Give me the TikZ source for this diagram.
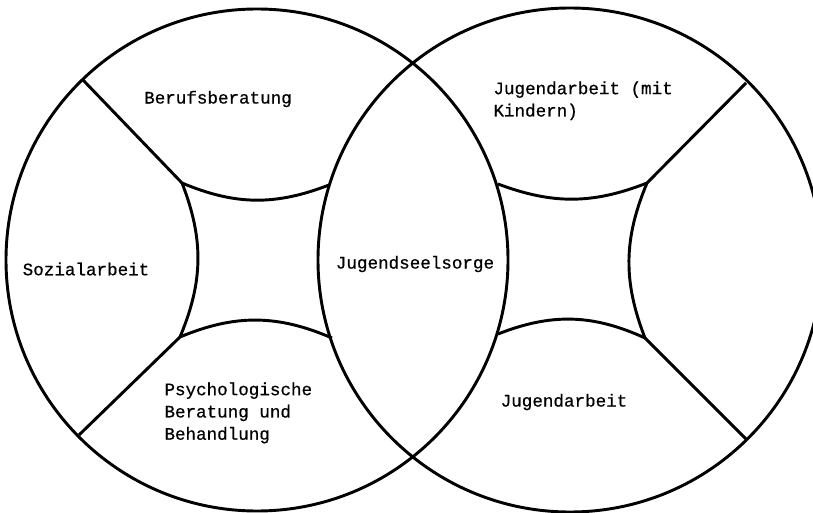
\documentclass[tikz,border=0pt]{standalone}
\usepackage{fontspec}
\newfontfamily\schreib[FakeBold=0.6]{Liberation Mono}
\begin{document}
\begin{tikzpicture}[x=0.03cm,y=-0.03cm,line width=2.5pt,
  feld/.style={font=\schreib\fontsize{15}{19}\selectfont,align=left,inner sep=0pt}]
\useasboundingbox (0,0) rectangle (813,513);
\clip (0,0) rectangle (813,513);

% die beiden Kreise
\coordinate (ml) at (257,260);
\coordinate (mr) at (570,260);
\draw (ml) circle (251);
\draw (mr) circle (252);

% Ecken der inneren Felder
\coordinate (a1) at (182,183);
\coordinate (a2) at (329,185);
\coordinate (a3) at (332,338);
\coordinate (a4) at (180,337);
\coordinate (b1) at (498,184);
\coordinate (b2) at (647,183);
\coordinate (b3) at (645,338);
\coordinate (b4) at (498,334);

% Punkte am Rand
\coordinate (ra1) at (83,80);
\coordinate (ra4) at (79,435);
\coordinate (rb2) at (746,83);
\coordinate (rb3) at (747,440);

% linker Kreis
\draw (ra1) -- (a1) to[bend right=22] (a2);
\draw (ra4) -- (a4) to[bend left=23] (a3);
\draw (a1) to[bend left=22] (a4);

% rechter Kreis
\draw (rb2) -- (b2) to[bend left=21] (b1);
\draw (rb3) -- (b3) to[bend right=23] (b4);
\draw (b2) to[bend right=22] (b3);

% Beschriftung
\node[feld] (beruf) at (218,99) {Berufsberatung};
\node[feld] (sozial) at (86,269) {Sozialarbeit};
\node[feld] (seelsorge) at (415,264) {Jugendseelsorge};
\node[feld,anchor=north west] (kinder) at (492,80) {Jugendarbeit (mit\\Kindern)};
\node[feld] (jugend) at (564,402) {Jugendarbeit};
\node[feld,anchor=north west] (psycho) at (163,381) {Psychologische\\Beratung und\\Behandlung};

\end{tikzpicture}
\end{document}
